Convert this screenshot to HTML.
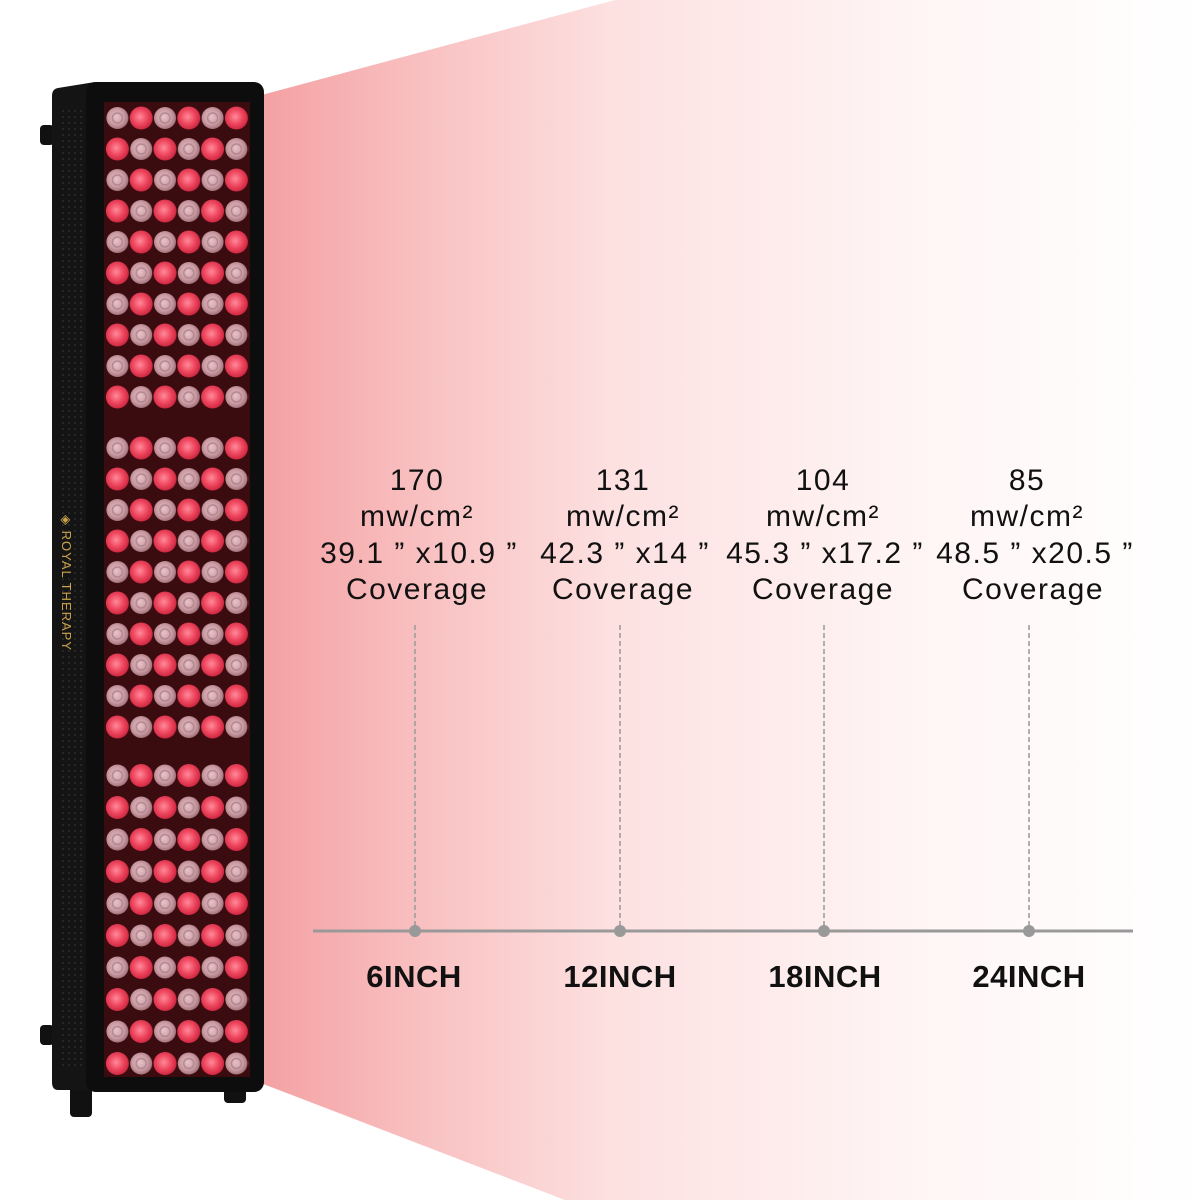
<!DOCTYPE html>
<html><head><meta charset="utf-8"><style>
html,body{margin:0;padding:0;background:#fff;}
svg{display:block;}
text{font-family:"Liberation Sans",Arial,sans-serif;}
</style></head><body>
<svg width="1200" height="1200" viewBox="0 0 1200 1200" xmlns="http://www.w3.org/2000/svg">
<defs>
<linearGradient id="beam" x1="0" y1="0" x2="1" y2="0" gradientUnits="objectBoundingBox">
<stop offset="0" stop-color="#f4a0a2"/>
<stop offset="0.15" stop-color="#f8bcbd"/>
<stop offset="0.38" stop-color="#fde1e1"/>
<stop offset="0.7" stop-color="#fff5f5"/>
<stop offset="1" stop-color="#ffffff"/>
</linearGradient>
<radialGradient id="red" cx="0.45" cy="0.45" r="0.6">
<stop offset="0" stop-color="#ff8a9a"/>
<stop offset="0.5" stop-color="#f04a62"/>
<stop offset="1" stop-color="#c8203a"/>
</radialGradient>
<radialGradient id="pink" cx="0.45" cy="0.45" r="0.6">
<stop offset="0" stop-color="#e8c2c8"/>
<stop offset="0.6" stop-color="#c99aa2"/>
<stop offset="1" stop-color="#9a6a72"/>
</radialGradient>
<pattern id="leds" x="105.5" y="102.5" width="47.6" height="62" patternUnits="userSpaceOnUse">
<circle cx="11.9" cy="15.5" r="11" fill="url(#pink)"/>
<circle cx="11.9" cy="15.5" r="5" fill="none" stroke="#b48890" stroke-width="1.5"/>
<circle cx="35.7" cy="15.5" r="11.5" fill="url(#red)"/>
<circle cx="11.9" cy="46.5" r="11.5" fill="url(#red)"/>
<circle cx="35.7" cy="46.5" r="11" fill="url(#pink)"/>
<circle cx="35.7" cy="46.5" r="5" fill="none" stroke="#b48890" stroke-width="1.5"/>
</pattern>
<pattern id="leds2" x="105.5" y="432.5" width="47.6" height="62" patternUnits="userSpaceOnUse">
<circle cx="11.9" cy="15.5" r="11" fill="url(#pink)"/>
<circle cx="11.9" cy="15.5" r="5" fill="none" stroke="#b48890" stroke-width="1.5"/>
<circle cx="35.7" cy="15.5" r="11.5" fill="url(#red)"/>
<circle cx="11.9" cy="46.5" r="11.5" fill="url(#red)"/>
<circle cx="35.7" cy="46.5" r="11" fill="url(#pink)"/>
<circle cx="35.7" cy="46.5" r="5" fill="none" stroke="#b48890" stroke-width="1.5"/>
</pattern>
<pattern id="leds3" x="105.5" y="759.5" width="47.6" height="64" patternUnits="userSpaceOnUse">
<circle cx="11.9" cy="16" r="11" fill="url(#pink)"/>
<circle cx="11.9" cy="16" r="5" fill="none" stroke="#b48890" stroke-width="1.5"/>
<circle cx="35.7" cy="16" r="11.5" fill="url(#red)"/>
<circle cx="11.9" cy="48" r="11.5" fill="url(#red)"/>
<circle cx="35.7" cy="48" r="11" fill="url(#pink)"/>
<circle cx="35.7" cy="48" r="5" fill="none" stroke="#b48890" stroke-width="1.5"/>
</pattern>
<pattern id="holes" width="6" height="6" patternUnits="userSpaceOnUse">
<circle cx="3" cy="3" r="1" fill="#2c2c2c"/>
</pattern>
</defs>

<polygon points="258,96 615,0 1200,0 1200,1200 565,1200 258,1082" fill="url(#beam)"/>

<rect x="40" y="125" width="14" height="20" rx="4" fill="#111"/>
<rect x="40" y="1025" width="14" height="20" rx="4" fill="#111"/>
<rect x="70" y="1085" width="22" height="32" rx="4" fill="#111"/>
<rect x="224" y="1085" width="22" height="18" rx="4" fill="#111"/>
<path d="M58,88 L95,82 L100,1090 L58,1090 Q52,1090 52,1082 L52,96 Q52,89 58,88 Z" fill="#141414"/>
<rect x="58" y="110" width="26" height="960" fill="url(#holes)"/>
<rect x="86" y="82" width="178" height="1010" rx="10" fill="#0d0d0d"/>
<rect x="104" y="102" width="146" height="975" fill="#3a0c10"/>
<rect x="105" y="102" width="144" height="310" fill="url(#leds)"/>
<rect x="105" y="432" width="144" height="310" fill="url(#leds2)"/>
<rect x="105" y="759" width="144" height="320" fill="url(#leds3)"/>
<text transform="translate(62,515) rotate(90)" font-family="Liberation Serif,serif" font-size="13" fill="#c9a24a" letter-spacing="1">◈ ROYAL THERAPY</text>

<g font-size="30" fill="#111" text-anchor="middle" letter-spacing="1.5">
<text x="417" y="490">170</text>
<text x="417" y="526">mw/cm²</text>
<text x="419" y="563">39.1 ” x10.9 ”</text>
<text x="417" y="599">Coverage</text>
<text x="623" y="490">131</text>
<text x="623" y="526">mw/cm²</text>
<text x="625" y="563">42.3 ” x14 ”</text>
<text x="623" y="599">Coverage</text>
<text x="823" y="490">104</text>
<text x="823" y="526">mw/cm²</text>
<text x="825" y="563">45.3 ” x17.2 ”</text>
<text x="823" y="599">Coverage</text>
<text x="1027" y="490">85</text>
<text x="1027" y="526">mw/cm²</text>
<text x="1035" y="563">48.5 ” x20.5 ”</text>
<text x="1033" y="599">Coverage</text>
</g>

<g stroke="#999" stroke-width="1.5" stroke-dasharray="5,3">
<line x1="415" y1="625" x2="415" y2="928"/>
<line x1="620" y1="625" x2="620" y2="928"/>
<line x1="824" y1="625" x2="824" y2="928"/>
<line x1="1029" y1="625" x2="1029" y2="928"/>
</g>
<line x1="313" y1="931" x2="1133" y2="931" stroke="#999" stroke-width="3"/>
<g fill="#999">
<circle cx="415" cy="931" r="6"/>
<circle cx="620" cy="931" r="6"/>
<circle cx="824" cy="931" r="6"/>
<circle cx="1029" cy="931" r="6"/>
</g>
<g font-size="31" font-weight="bold" fill="#111" text-anchor="middle" letter-spacing="0.5">
<text x="414" y="987">6INCH</text>
<text x="620" y="987">12INCH</text>
<text x="825" y="987">18INCH</text>
<text x="1029" y="987">24INCH</text>
</g>
</svg>
</body></html>
